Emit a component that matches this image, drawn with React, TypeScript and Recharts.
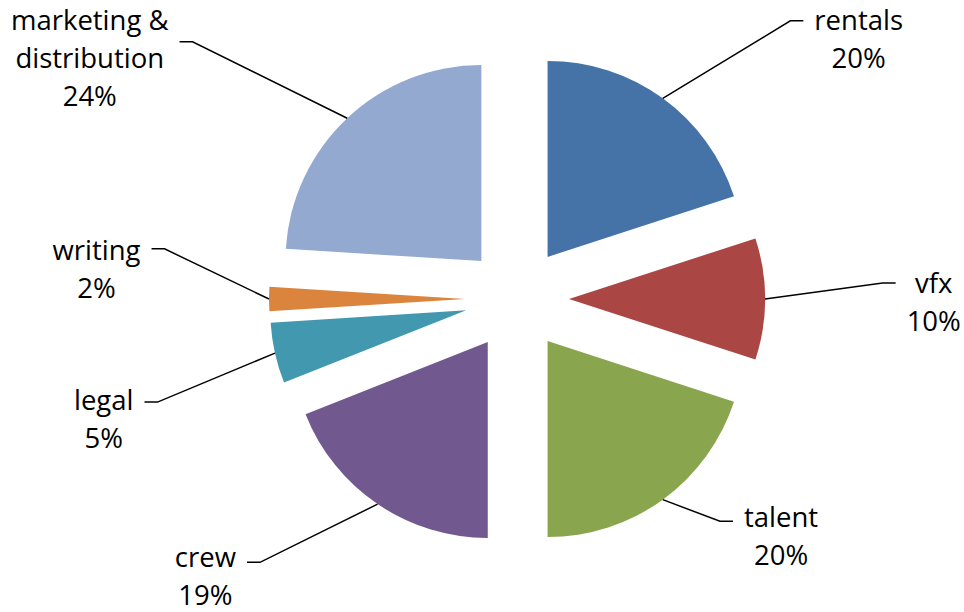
import React from 'react';
import { PieChart, Pie } from 'recharts';

const categories = ['rentals', 'vfx', 'talent', 'crew', 'legal', 'writing', 'marketing & distribution'];
const shares = [20, 10, 20, 19, 5, 2, 24];
const labelLines = [['rentals'], ['vfx'], ['talent'], ['crew'], ['legal'], ['writing'], ['marketing &', 'distribution']];
const colors = ['#4572A7', '#AA4643', '#89A54E', '#71588F', '#4198AF', '#DB843D', '#93A9CF'];

// label layout: elbow of leader line in polar form around the pie centre
const labelAngle = [44.5, 87.5, 137.6, 224.3, 254, 278.1, 308.4];
const labelRadius = [390, 366, 301, 368, 374, 356, 414];
const labelBaseline = [9, 10, 6, 5, 8, 11, -12];

const W = 964;
const H = 612;
const CX = 517;
const CY = 299;
const R = 196;
const EXPLODE = 52;
const FONT_FAMILY = '"Open Sans", sans-serif';
const FS = 27.5;
const LINE_H = 38;
const RAD = Math.PI / 180;

let ctx: CanvasRenderingContext2D | null = null;
function textWidth(s: string): number {
  if (typeof document === 'undefined') return s.length * FS * 0.55;
  if (!ctx) ctx = document.createElement('canvas').getContext('2d');
  if (!ctx) return s.length * FS * 0.55;
  ctx.font = `${FS}px "Open Sans"`;
  return ctx.measureText(s).width;
}

const total = shares.reduce((a, b) => a + b, 0);
const starts: number[] = [];
{
  let acc = 0;
  shares.forEach((v) => {
    starts.push(acc);
    acc += v;
  });
}

function sliceGeom(i: number) {
  const f0 = starts[i] / total;
  const f1 = (starts[i] + shares[i]) / total;
  const mid = ((f0 + f1) / 2) * 360; // clockwise from 12 o'clock
  const pcx = CX + EXPLODE * Math.sin(mid * RAD);
  const pcy = CY - EXPLODE * Math.cos(mid * RAD);
  return { f0, f1, mid, pcx, pcy };
}

const makeLabel = (i: number) => () => {
  const { mid, pcx, pcy } = sliceGeom(i);
  const sx = pcx + R * Math.sin(mid * RAD);
  const sy = pcy - R * Math.cos(mid * RAD);
  const a = labelAngle[i] * RAD;
  const ex = CX + labelRadius[i] * Math.sin(a);
  const ey = CY - labelRadius[i] * Math.cos(a);
  const right = ex > CX;
  const hx = ex + (right ? 13 : -13);
  const lines = [...labelLines[i], `${shares[i]}%`];
  const maxW = Math.max(...lines.map(textWidth));
  const tx = hx + (right ? 1 : -1) * (11 + maxW / 2);
  return (
    <g key={`lbl-${i}`}>
      <polyline
        points={`${sx},${sy} ${ex},${ey} ${hx},${ey}`}
        fill="none"
        stroke="#000"
        strokeWidth={1.5}
      />
      <text
        x={tx}
        y={ey + labelBaseline[i]}
        textAnchor="middle"
        fontFamily={FONT_FAMILY}
        fontSize={FS}
        fill="#000"
      >
        {lines.map((l, k) => (
          <tspan key={k} x={tx} dy={k === 0 ? 0 : LINE_H}>
            {l}
          </tspan>
        ))}
      </text>
    </g>
  );
};

export default function App() {
  return (
    <div style={{ position: 'absolute', left: 0, top: 0, width: W, height: H, background: '#fff' }}>
      <PieChart width={W} height={H} margin={{ top: 0, right: 0, bottom: 0, left: 0 }}>
        {categories.map((name, i) => {
          const { f0, f1, pcx, pcy } = sliceGeom(i);
          return (
            <Pie
              key={name}
              data={[{ name, value: shares[i] }]}
              dataKey="value"
              nameKey="name"
              cx={pcx}
              cy={pcy}
              innerRadius={0}
              outerRadius={R}
              startAngle={90 - 360 * f0}
              endAngle={90 - 360 * f1}
              fill={colors[i]}
              stroke="none"
              isAnimationActive={false}
              label={makeLabel(i)}
              labelLine={false}
            />
          );
        })}
      </PieChart>
    </div>
  );
}
